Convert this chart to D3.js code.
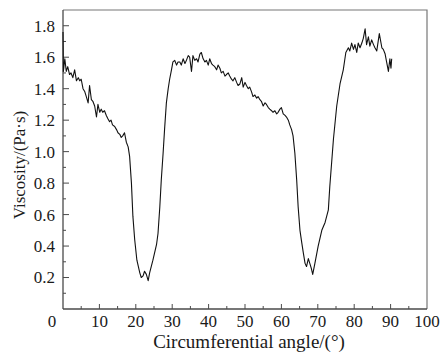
<!DOCTYPE html>
<html>
<head>
<meta charset="utf-8">
<script src="https://cdn.jsdelivr.net/npm/d3@7"></script>
<style>
  body { margin: 0; background: #fff; }
  text { font-family: "Liberation Serif", "Times New Roman", serif; fill: #1a1a1a; }
</style>
</head>
<body>
<svg width="441" height="360"></svg>
<script>
// angle (deg) and viscosity (Pa·s)
const angle = [
  0.0, 0.1, 0.5, 0.9, 1.3, 1.8, 2.2, 2.7, 3.2, 3.7, 4.2, 4.6, 5.0, 5.5, 6.0, 6.4, 6.9, 7.3, 7.8, 8.2,
  8.7, 9.2, 9.6, 10.1, 10.5, 10.9, 11.4, 11.9, 12.3, 12.8, 13.2, 13.6, 14.2, 14.7, 15.1, 15.6, 16.0, 16.4, 16.9, 17.4,
  17.9, 18.3, 18.8, 19.2, 19.7, 20.3, 21.1, 21.5, 22.0, 22.4, 22.9, 23.4, 23.8, 24.7, 25.7, 26.1, 26.6, 27.0, 27.5, 27.9,
  28.4, 28.9, 29.3, 29.8, 30.2, 30.7, 31.2, 31.6, 32.1, 32.5, 33.0, 33.5, 33.9, 34.4, 34.8, 35.3, 35.7, 36.2, 36.7, 37.1,
  37.6, 38.0, 38.5, 39.0, 39.4, 39.9, 40.3, 40.8, 41.2, 41.7, 42.2, 42.6, 43.1, 43.5, 44.0, 44.5, 44.9, 45.4, 45.8, 46.3,
  46.7, 47.2, 47.7, 48.1, 48.6, 49.1, 49.5, 50.0, 50.4, 50.9, 51.3, 51.8, 52.2, 52.7, 53.2, 53.6, 54.1, 54.5, 55.0, 55.5,
  55.9, 56.4, 56.8, 57.3, 57.7, 58.2, 58.7, 59.1, 59.6, 60.0, 60.5, 61.0, 61.4, 61.9, 62.3, 62.8, 63.2, 63.7, 64.2, 64.6,
  65.1, 65.6, 66.0, 66.5, 66.9, 67.4, 67.8, 68.2, 68.6, 69.2, 70.1, 71.1, 72.0, 72.9, 73.3, 74.3, 75.2, 76.1, 77.0, 77.7,
  78.4, 78.8, 79.3, 79.8, 80.2, 80.7, 81.1, 81.6, 82.1, 82.5, 83.0, 83.4, 83.9, 84.3, 84.8, 85.3, 85.7, 86.2, 86.9, 87.6,
  88.0, 88.5, 88.9, 89.4, 89.8, 90.1, 90.3
];
const viscosity = [
  1.76, 1.51, 1.59, 1.51, 1.54, 1.49, 1.50, 1.47, 1.52, 1.45, 1.47, 1.45, 1.46, 1.40, 1.38, 1.35, 1.31, 1.42, 1.33, 1.32,
  1.29, 1.22, 1.30, 1.25, 1.27, 1.25, 1.26, 1.23, 1.21, 1.19, 1.20, 1.17, 1.16, 1.14, 1.12, 1.11, 1.09, 1.10, 1.12, 1.06,
  1.03, 0.97, 0.80, 0.59, 0.44, 0.31, 0.23, 0.20, 0.21, 0.24, 0.22, 0.18, 0.23, 0.31, 0.41, 0.48, 0.65, 0.82, 0.99, 1.14,
  1.31, 1.40, 1.46, 1.52, 1.57, 1.58, 1.55, 1.57, 1.57, 1.55, 1.59, 1.56, 1.58, 1.61, 1.60, 1.51, 1.61, 1.58, 1.59, 1.57,
  1.62, 1.63, 1.59, 1.57, 1.58, 1.55, 1.59, 1.56, 1.55, 1.54, 1.52, 1.55, 1.53, 1.50, 1.51, 1.48, 1.49, 1.50, 1.48, 1.46,
  1.45, 1.47, 1.44, 1.42, 1.43, 1.47, 1.41, 1.44, 1.42, 1.40, 1.41, 1.38, 1.35, 1.36, 1.34, 1.35, 1.33, 1.32, 1.29, 1.31,
  1.30, 1.28, 1.27, 1.26, 1.25, 1.26, 1.24, 1.25, 1.27, 1.28, 1.24, 1.23, 1.22, 1.20, 1.17, 1.14, 1.10, 0.99, 0.82, 0.65,
  0.50, 0.42, 0.36, 0.29, 0.27, 0.32, 0.29, 0.26, 0.22, 0.29, 0.40, 0.50, 0.55, 0.63, 0.78, 1.08, 1.29, 1.43, 1.52, 1.63,
  1.66, 1.64, 1.69, 1.65, 1.68, 1.63, 1.69, 1.66, 1.69, 1.72, 1.78, 1.68, 1.73, 1.67, 1.71, 1.68, 1.66, 1.64, 1.75, 1.66,
  1.65, 1.62, 1.57, 1.51, 1.59, 1.53, 1.59
];
const xTicks = [0, 10, 20, 30, 40, 50, 60, 70, 80, 90, 100];
const yTicks = [0.2, 0.4, 0.6, 0.8, 1.0, 1.2, 1.4, 1.6, 1.8];

const svg = d3.select("svg");
const plotLeft = 63, plotRight = 427, plotTop = 10, plotBottom = 309;

const x = d3.scaleLinear().domain([0, 100]).range([plotLeft, plotRight]);
const y = d3.scaleLinear().domain([0, 1.9]).range([plotBottom, plotTop]);

const axisColor = "#4a4a4a";

// frame (top + right)
svg.append("path")
  .attr("d", `M${plotLeft},${plotTop}H${plotRight}V${plotBottom}`)
  .attr("fill", "none")
  .attr("stroke", "#777")
  .attr("stroke-width", 1.2);

// x axis: inward ticks, labels drawn separately
const xMinor = d3.range(5, 100, 10);
const gx = svg.append("g").attr("transform", `translate(0,${plotBottom})`);
gx.append("line").attr("x1", plotLeft).attr("x2", plotRight).attr("stroke", axisColor).attr("stroke-width", 1.3);
gx.selectAll(".major").data(xTicks.filter(d => d > 0 && d < 100)).join("line")
  .attr("class", "major")
  .attr("x1", d => x(d)).attr("x2", d => x(d))
  .attr("y1", 0).attr("y2", -5)
  .attr("stroke", axisColor);
gx.selectAll(".minor").data(xMinor).join("line")
  .attr("class", "minor")
  .attr("x1", d => x(d)).attr("x2", d => x(d))
  .attr("y1", 0).attr("y2", -3)
  .attr("stroke", axisColor);
gx.selectAll("text").data(xTicks).join("text")
  .attr("x", d => d === 0 ? x(d) - 11 : x(d))
  .attr("y", 18)
  .attr("text-anchor", "middle")
  .attr("font-size", 17)
  .text(d => d);

// y axis
const yMinor = d3.range(1, 19, 2).map(d => d / 10);
const gy = svg.append("g").attr("transform", `translate(${plotLeft},0)`);
gy.append("line").attr("y1", plotTop).attr("y2", plotBottom).attr("stroke", axisColor).attr("stroke-width", 1.3);
gy.selectAll(".major").data(yTicks).join("line")
  .attr("class", "major")
  .attr("y1", d => y(d)).attr("y2", d => y(d))
  .attr("x1", 0).attr("x2", 6)
  .attr("stroke", axisColor);
gy.selectAll(".minor").data(yMinor).join("line")
  .attr("class", "minor")
  .attr("y1", d => y(d)).attr("y2", d => y(d))
  .attr("x1", 0).attr("x2", 3)
  .attr("stroke", axisColor);
gy.selectAll("text").data(yTicks).join("text")
  .attr("x", -8)
  .attr("y", d => y(d))
  .attr("dy", "0.35em")
  .attr("text-anchor", "end")
  .attr("font-size", 17)
  .text(d => d.toFixed(1));

// titles
svg.append("text")
  .attr("x", 249).attr("y", 348)
  .attr("text-anchor", "middle")
  .attr("font-size", 19)
  .text("Circumferential angle/(°)");

svg.append("text")
  .attr("transform", `translate(25,165) rotate(-90)`)
  .attr("text-anchor", "middle")
  .attr("font-size", 17)
  .text("Viscosity/(Pa·s)");

// curve
const pts = angle.map((a, i) => [a, viscosity[i]]);
svg.append("path")
  .datum(pts)
  .attr("fill", "none")
  .attr("stroke", "#111")
  .attr("stroke-width", 1.1)
  .attr("stroke-linejoin", "round")
  .attr("d", d3.line().x(d => x(d[0])).y(d => y(d[1])));
</script>
</body>
</html>
